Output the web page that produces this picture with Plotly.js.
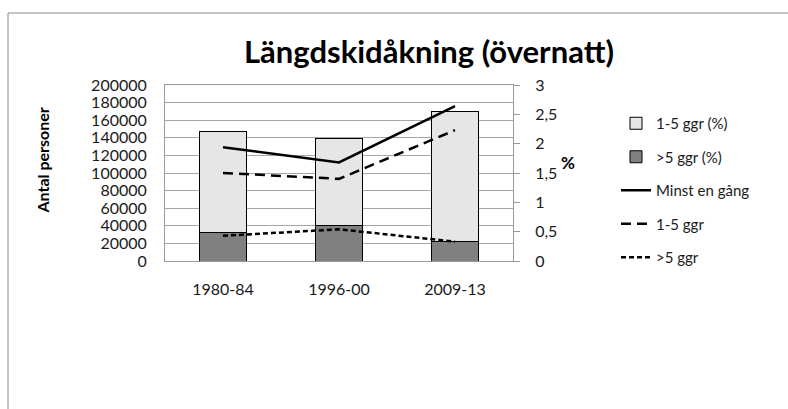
<!DOCTYPE html>
<html>
<head>
<meta charset="utf-8">
<script src="https://cdn.plot.ly/plotly-3.0.1.min.js"></script>
<style>html,body{margin:0;padding:0;background:#fff;overflow:hidden;}#chart{width:788px;height:409px;overflow:hidden;}</style>
</head>
<body>
<div id="chart"></div>
<script>
var categories = ['1980-84', '1996-00', '2009-13'];
var over5Bars = [32000, 40000, 22000];
var oneToFiveBars = [115000, 99000, 148000];
var minstEnGang = [1.94, 1.68, 2.64];
var oneToFiveLine = [1.50, 1.40, 2.23];
var over5Line = [0.43, 0.54, 0.33];
var leftTicks = [0, 20000, 40000, 60000, 80000, 100000, 120000, 140000, 160000, 180000, 200000];
var rightTicks = [0, 0.5, 1, 1.5, 2, 2.5, 3];

var FONT = 'Lato, "Open Sans", sans-serif';

var traces = [
  {type: 'bar', name: '>5 ggr (%)', x: categories, y: over5Bars, yaxis: 'y',
   marker: {color: '#808080', line: {color: '#000', width: 1}}, width: 0.4,
   legendgroup: 'b', legendrank: 2},
  {type: 'bar', name: '1-5 ggr (%)', x: categories, y: oneToFiveBars, yaxis: 'y',
   marker: {color: '#e6e6e6', line: {color: '#000', width: 1}}, width: 0.4,
   legendgroup: 'a', legendrank: 1},
  {type: 'scatter', mode: 'lines', name: 'Minst en gång', x: categories, y: minstEnGang, yaxis: 'y2',
   line: {color: '#000', width: 2.5}, legendgroup: 'c', legendrank: 3},
  {type: 'scatter', mode: 'lines', name: '1-5 ggr', x: categories, y: oneToFiveLine, yaxis: 'y2',
   line: {color: '#000', width: 2.5, dash: '10px,6px'}, legendgroup: 'd', legendrank: 4},
  {type: 'scatter', mode: 'lines', name: '>5 ggr', x: categories, y: over5Line, yaxis: 'y2',
   line: {color: '#000', width: 2.5, dash: '5px,3px'}, legendgroup: 'e', legendrank: 5}
];

var layout = {
  width: 788, height: 409,
  margin: {l: 165, r: 275, t: 85, b: 148, pad: 0},
  paper_bgcolor: '#fff', plot_bgcolor: '#fff',
  separators: ', ',
  barmode: 'stack',
  font: {family: FONT, size: 16, color: '#1a1a1a'},
  showlegend: true,
  title: {text: 'Längdskidåkning (övernatt)', font: {family: FONT, size: 31, color: '#000', weight: 'bold'},
          xref: 'paper', x: 0.7586, xanchor: 'center', yref: 'container', y: 0.872, yanchor: 'middle'},
  xaxis: {type: 'category', range: [-0.5, 2.5], showline: true, linecolor: '#9a9a9a', linewidth: 1,
          mirror: true, ticks: '', ticklabelstandoff: 14, tickfont: {size: 16}, showgrid: false, zeroline: false},
  yaxis: {range: [0, 200000], tickvals: leftTicks, tickformat: 'd', showgrid: true, gridcolor: '#a6a6a6',
          gridwidth: 1, showline: true, linecolor: '#9a9a9a', linewidth: 1, ticks: '', zeroline: false,
          ticklabelstandoff: 14, tickfont: {size: 16}},
  yaxis2: {range: [0, 3], tickvals: rightTicks, overlaying: 'y', side: 'right', showgrid: false,
           showline: true, linecolor: '#9a9a9a', linewidth: 1, ticks: 'outside', ticklen: 6,
           tickcolor: '#9a9a9a', zeroline: false, ticklabelstandoff: 12, tickfont: {size: 16}},
  legend: {x: 1.296, xanchor: 'left', y: 0.875, yanchor: 'top', traceorder: 'grouped', tracegroupgap: 11,
           font: {family: FONT, size: 15, color: '#1a1a1a'}, bgcolor: 'rgba(0,0,0,0)', itemwidth: 30},
  annotations: [
    {text: '<b>Antal personer</b>', xref: 'paper', yref: 'paper', x: -0.3534, y: 0.571, textangle: -90,
     showarrow: false, font: {family: FONT, size: 16, color: '#000'}, xanchor: 'center', yanchor: 'middle'},
    {text: '<b>%</b>', xref: 'paper', yref: 'paper', x: 1.158, y: 0.557,
     showarrow: false, font: {family: FONT, size: 17, color: '#000'}, xanchor: 'center', yanchor: 'middle'}
  ],
  shapes: [
    {type: 'line', xref: 'paper', yref: 'paper', x0: -0.4511, y0: 1.409, x1: 1.80, y1: 1.409,
     line: {color: '#8c8c8c', width: 1}, layer: 'below'},
    {type: 'line', xref: 'paper', yref: 'paper', x0: -0.4511, y0: 1.409, x1: -0.4511, y1: -0.85,
     line: {color: '#8c8c8c', width: 1}, layer: 'below'}
  ]
};

Plotly.newPlot('chart', traces, layout, {displayModeBar: false, responsive: false});
</script>
</body>
</html>
